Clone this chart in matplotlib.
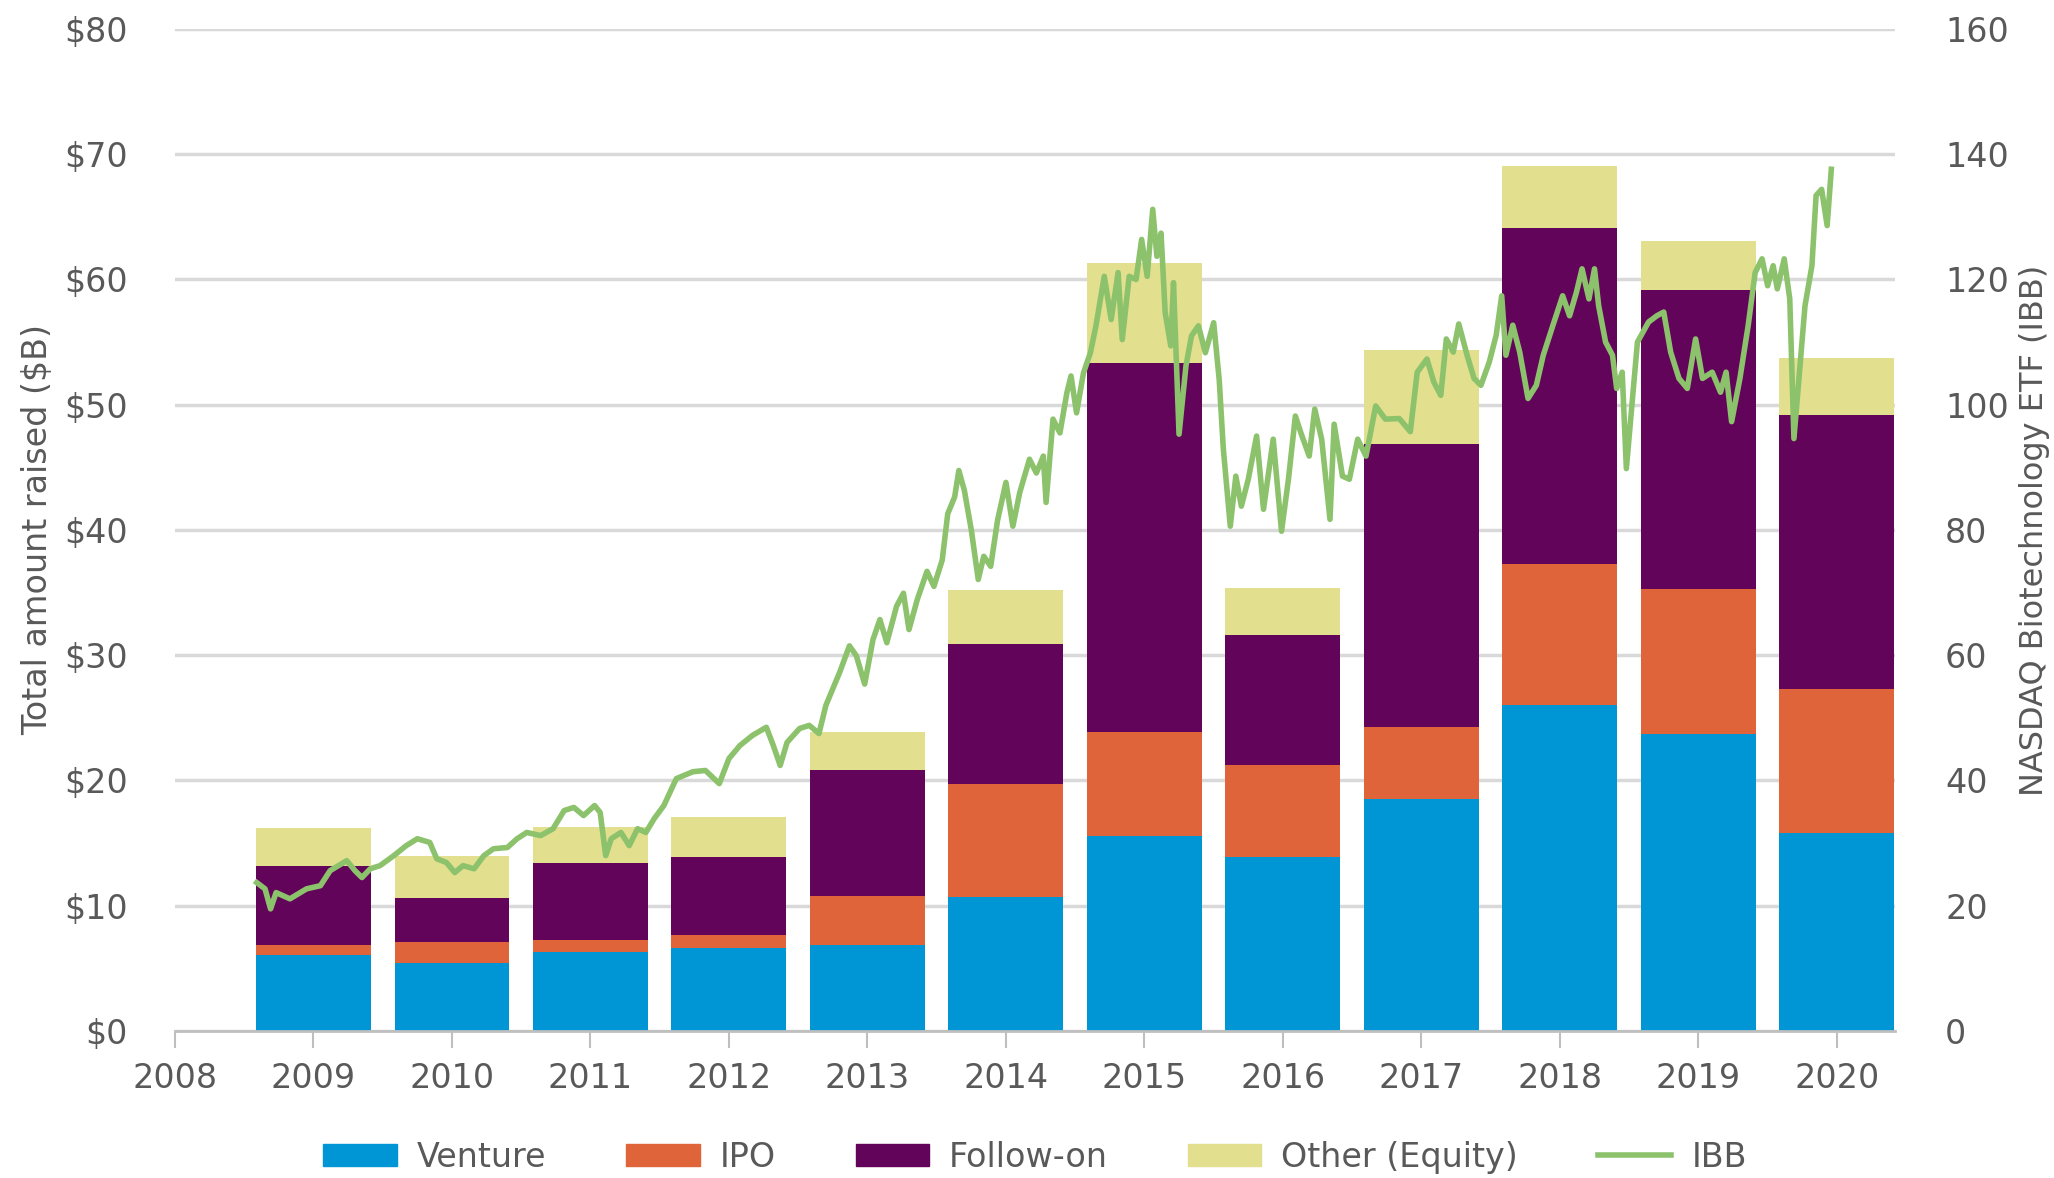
import matplotlib.pyplot as plt
import numpy as np
from matplotlib.lines import Line2D
from matplotlib.patches import Patch

plt.rcParams['font.family'] = ['DejaVu Sans']

years = [2009, 2010, 2011, 2012, 2013, 2014, 2015, 2016, 2017, 2018, 2019, 2020]
venture = [6.1, 5.4, 6.3, 6.6, 6.9, 10.7, 15.6, 13.9, 18.5, 26.0, 23.7, 15.8]
ipo = [0.8, 1.7, 1.0, 1.1, 3.9, 9.0, 8.3, 7.3, 5.8, 11.3, 11.6, 11.5]
follow_on = [6.3, 3.5, 6.1, 6.2, 10.0, 11.2, 29.4, 10.4, 22.6, 26.8, 23.9, 21.9]
other = [3.0, 3.4, 2.9, 3.2, 3.1, 4.3, 8.0, 3.8, 7.5, 5.0, 3.9, 4.5]

# IBB price (x in axis years)
ibb_x = [2008.59, 2008.65, 2008.69, 2008.73, 2008.83, 2008.95, 2009.05, 2009.12, 2009.24, 2009.30,
         2009.35, 2009.41, 2009.48, 2009.58, 2009.67, 2009.75, 2009.84, 2009.89, 2009.96, 2010.02,
         2010.08, 2010.16, 2010.23, 2010.30, 2010.40, 2010.47, 2010.54, 2010.64, 2010.73, 2010.81,
         2010.88, 2010.95, 2011.03, 2011.07, 2011.11, 2011.15, 2011.22, 2011.28, 2011.34, 2011.40,
         2011.46, 2011.53, 2011.62, 2011.74, 2011.83, 2011.93, 2012.00, 2012.08, 2012.17, 2012.27,
         2012.32, 2012.37, 2012.42, 2012.51, 2012.58, 2012.65, 2012.70, 2012.80, 2012.87, 2012.92,
         2012.98, 2013.04, 2013.09, 2013.14, 2013.21, 2013.26, 2013.30, 2013.36, 2013.43, 2013.48,
         2013.54, 2013.58, 2013.63, 2013.66, 2013.70, 2013.75, 2013.80, 2013.84, 2013.89, 2013.94,
         2014.00, 2014.05, 2014.10, 2014.17, 2014.22, 2014.27, 2014.29, 2014.34, 2014.39, 2014.44,
         2014.47, 2014.51, 2014.56, 2014.61, 2014.65, 2014.71, 2014.76, 2014.81, 2014.84, 2014.89,
         2014.94, 2014.98, 2015.02, 2015.06, 2015.09, 2015.12, 2015.15, 2015.19, 2015.21, 2015.25,
         2015.30, 2015.34, 2015.39, 2015.44, 2015.50, 2015.54, 2015.57, 2015.62, 2015.66, 2015.70,
         2015.75, 2015.81, 2015.86, 2015.93, 2015.99, 2016.04, 2016.09, 2016.13, 2016.19, 2016.23,
         2016.28, 2016.34, 2016.37, 2016.43, 2016.48, 2016.54, 2016.60, 2016.67, 2016.74, 2016.84,
         2016.92, 2016.97, 2017.04, 2017.09, 2017.14, 2017.18, 2017.23, 2017.27, 2017.33, 2017.38,
         2017.43, 2017.49, 2017.54, 2017.58, 2017.61, 2017.66, 2017.71, 2017.77, 2017.83, 2017.88,
         2017.95, 2018.02, 2018.07, 2018.12, 2018.16, 2018.21, 2018.25, 2018.28, 2018.33, 2018.38,
         2018.41, 2018.45, 2018.48, 2018.52, 2018.56, 2018.64, 2018.70, 2018.75, 2018.80, 2018.86,
         2018.92, 2018.98, 2019.03, 2019.10, 2019.16, 2019.20, 2019.24, 2019.30, 2019.36, 2019.41,
         2019.46, 2019.50, 2019.54, 2019.57, 2019.62, 2019.66, 2019.69, 2019.73, 2019.77, 2019.82,
         2019.85, 2019.89, 2019.93, 2019.96]
ibb = [23.7, 22.7, 19.5, 22.1, 21.1, 22.7, 23.2, 25.6, 27.2, 25.6,
       24.5, 25.9, 26.4, 28.0, 29.6, 30.7, 30.1, 27.5, 26.9, 25.3,
       26.4, 25.9, 28.0, 29.1, 29.3, 30.7, 31.7, 31.2, 32.3, 35.2,
       35.7, 34.4, 36.0, 34.9, 28.0, 30.7, 31.7, 29.6, 32.3, 31.7,
       33.9, 36.0, 40.3, 41.4, 41.6, 39.5, 43.5, 45.6, 47.2, 48.5,
       45.6, 42.4, 46.1, 48.3, 48.8, 47.5, 52.0, 57.3, 61.5, 59.9,
       55.4, 62.5, 65.7, 62.0, 67.8, 69.9, 64.1, 68.9, 73.4, 71.0,
       75.2, 82.6, 85.3, 89.5, 86.3, 80.0, 72.1, 75.8, 74.2, 81.6,
       87.6, 80.6, 86.0, 91.3, 89.1, 91.8, 84.4, 97.7, 95.5, 101.9,
       104.6, 98.7, 105.1, 108.3, 112.6, 120.5, 113.6, 121.1, 110.4, 120.5,
       120.0, 126.4, 120.5, 131.2, 123.7, 127.4, 114.7, 109.4, 119.5, 95.3,
       106.2, 111.0, 112.6, 108.3, 113.1, 104.0, 92.9, 80.6, 88.6, 83.8,
       88.1, 95.0, 83.3, 94.5, 79.8, 88.1, 98.2, 95.5, 91.8, 99.3,
       94.5, 81.7, 96.9, 88.6, 88.1, 94.5, 91.8, 99.8, 97.7, 97.8,
       95.7, 105.2, 107.3, 103.6, 101.5, 110.5, 108.4, 112.9, 107.9, 104.2,
       103.1, 106.8, 111.1, 117.4, 107.9, 112.7, 108.4, 101.0, 103.1, 107.9,
       112.7, 117.4, 114.2, 118.0, 121.7, 116.9, 121.7, 115.8, 110.0, 107.9,
       102.6, 105.2, 89.8, 99.9, 110.0, 113.2, 114.2, 114.8, 108.4, 104.2,
       102.6, 110.5, 104.2, 105.2, 102.0, 105.2, 97.3, 104.2, 112.7, 121.1,
       123.3, 119.0, 122.2, 118.5, 123.3, 116.9, 94.6, 105.2, 115.8, 122.2,
       133.4, 134.4, 128.6, 137.6]

labels = ['Venture', 'IPO', 'Follow-on', 'Other (Equity)', 'IBB']
colors = ['#0096d6', '#e0643a', '#620459', '#e2df8e']
ibb_color = '#8cc26c'
text_color = '#595959'
grid_color = '#d9d9d9'

fig = plt.figure(figsize=(20.54, 11.78), dpi=100)
ax = fig.add_axes([0.0852, 0.1248, 0.8374, 0.8506])

bottom = np.zeros(len(years))
for vals, c in zip([venture, ipo, follow_on, other], colors):
    ax.bar(years, vals, width=0.83, bottom=bottom, color=c, zorder=2)
    bottom += np.array(vals)

ax.set_xlim(2008, 2020.42)
ax.set_ylim(0, 80)
ax.set_yticks(range(0, 81, 10))
ax.set_yticklabels(['$%d' % v for v in range(0, 81, 10)])
ax.set_xticks(range(2008, 2021))
ax.yaxis.grid(True, color=grid_color, linewidth=2.5, zorder=0)
ax.set_axisbelow(True)
for s in ['top', 'right', 'left']:
    ax.spines[s].set_visible(False)
ax.spines['bottom'].set_color('#bfbfbf')
ax.spines['bottom'].set_linewidth(2)
ax.tick_params(axis='x', colors='#bfbfbf', length=12, width=1.5, labelcolor=text_color,
               labelsize=24, pad=10)
ax.tick_params(axis='y', length=0, labelcolor=text_color, labelsize=24, pad=34)
ax.set_ylabel('Total amount raised ($B)', color=text_color, fontsize=24)
ax.yaxis.set_label_coords(-0.07, 0.5)

ax2 = ax.twinx()
ax2.plot(ibb_x, ibb, color=ibb_color, linewidth=4, zorder=3)
ax2.set_ylim(0, 160)
ax2.set_yticks(range(0, 161, 20))
for s in ax2.spines.values():
    s.set_visible(False)
ax2.tick_params(axis='y', length=0, labelcolor=text_color, labelsize=24, pad=36)
ax2.set_ylabel('NASDAQ Biotechnology ETF (IBB)', color=text_color, fontsize=23)
ax2.yaxis.set_label_coords(1.072, 0.5)

handles = [Patch(color=c) for c in colors] + [Line2D([], [], color=ibb_color, linewidth=4)]
fig.legend(handles, labels, loc='lower center', bbox_to_anchor=(0.504, -0.022), ncol=5,
           frameon=False, fontsize=24, handlelength=2.2, handleheight=0.65,
           columnspacing=2.4, handletextpad=0.6, labelcolor=text_color)

fig.savefig('out.png', dpi=100)
